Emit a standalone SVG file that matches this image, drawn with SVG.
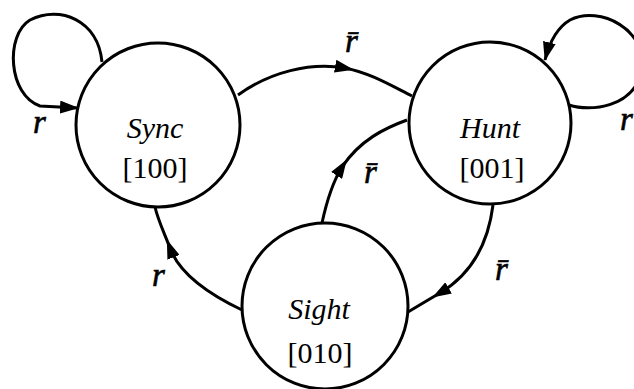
<svg xmlns="http://www.w3.org/2000/svg" width="634" height="389" viewBox="0 0 634 389">
<style>
.node{fill:#fff;stroke:#000;stroke-width:3}
.edge{fill:none;stroke:#000;stroke-width:3}
.t{font-family:"Liberation Serif","Times New Roman",serif;fill:#000;text-anchor:middle}
.it{font-style:italic;font-size:30px}
.num{font-size:30px}
.lab{font-family:"Liberation Serif","Times New Roman",serif;font-style:italic;font-size:33px;fill:#000;stroke:#000;stroke-width:0.6}
</style>
<defs>
<marker id="ah" markerUnits="userSpaceOnUse" markerWidth="20" markerHeight="13" refX="18" refY="6.5" orient="auto">
<path d="M0,0 L19,6.5 L0,13 z" fill="#000"/>
</marker>
<marker id="am" markerUnits="userSpaceOnUse" markerWidth="20" markerHeight="13" refX="10" refY="6.5" orient="auto">
<path d="M0,0 L19,6.5 L0,13 z" fill="#000"/>
</marker>
</defs>
<g id="connectors">
<path class="edge" d="M102,62 C98,20 60,5 30,20 C5,35 8,95 40,106 L78,108" marker-end="url(#ah)"/>
<path class="edge" d="M569,105 C590,112 634,108 642,70 C648,30 600,5 570,20 C558,27 550,40 545,60" marker-end="url(#ah)"/>
<path class="edge" d="M238,95 C270,72 310,62 345,68 C370,73 390,85 412,96" marker-mid="url(#am)"/>
<path class="edge" d="M493,205 C488,245 470,275 440,293 C428,300 418,306 408,312" marker-mid="url(#am)"/>
<path class="edge" d="M322,223 C328,195 334,180 342,167 C360,140 385,128 407,120" marker-mid="url(#am)"/>
<path class="edge" d="M242,310 C200,290 178,270 170,248 C163,230 158,220 155,207" marker-mid="url(#am)"/>
<text class="lab" x="345" y="52">r̄</text>
<text class="lab" x="364" y="183">r̄</text>
<text class="lab" x="495" y="280">r̄</text>
<text class="lab" x="620" y="130">r</text>
<text class="lab" x="152" y="286">r</text>
<text class="lab" x="33" y="133">r</text>
</g>
<g id="sync">
<circle class="node" cx="158" cy="125" r="82"/>
<text class="t it" x="155" y="138">Sync</text>
<text class="t num" x="155" y="178">[100]</text>
</g>
<g id="hunt">
<circle class="node" cx="490" cy="123" r="81"/>
<text class="t it" x="490" y="138">Hunt</text>
<text class="t num" x="492" y="178">[001]</text>
</g>
<g id="sight">
<circle class="node" cx="325" cy="306" r="83"/>
<text class="t it" x="319" y="319">Sight</text>
<text class="t num" x="320" y="363">[010]</text>
</g>
</svg>
